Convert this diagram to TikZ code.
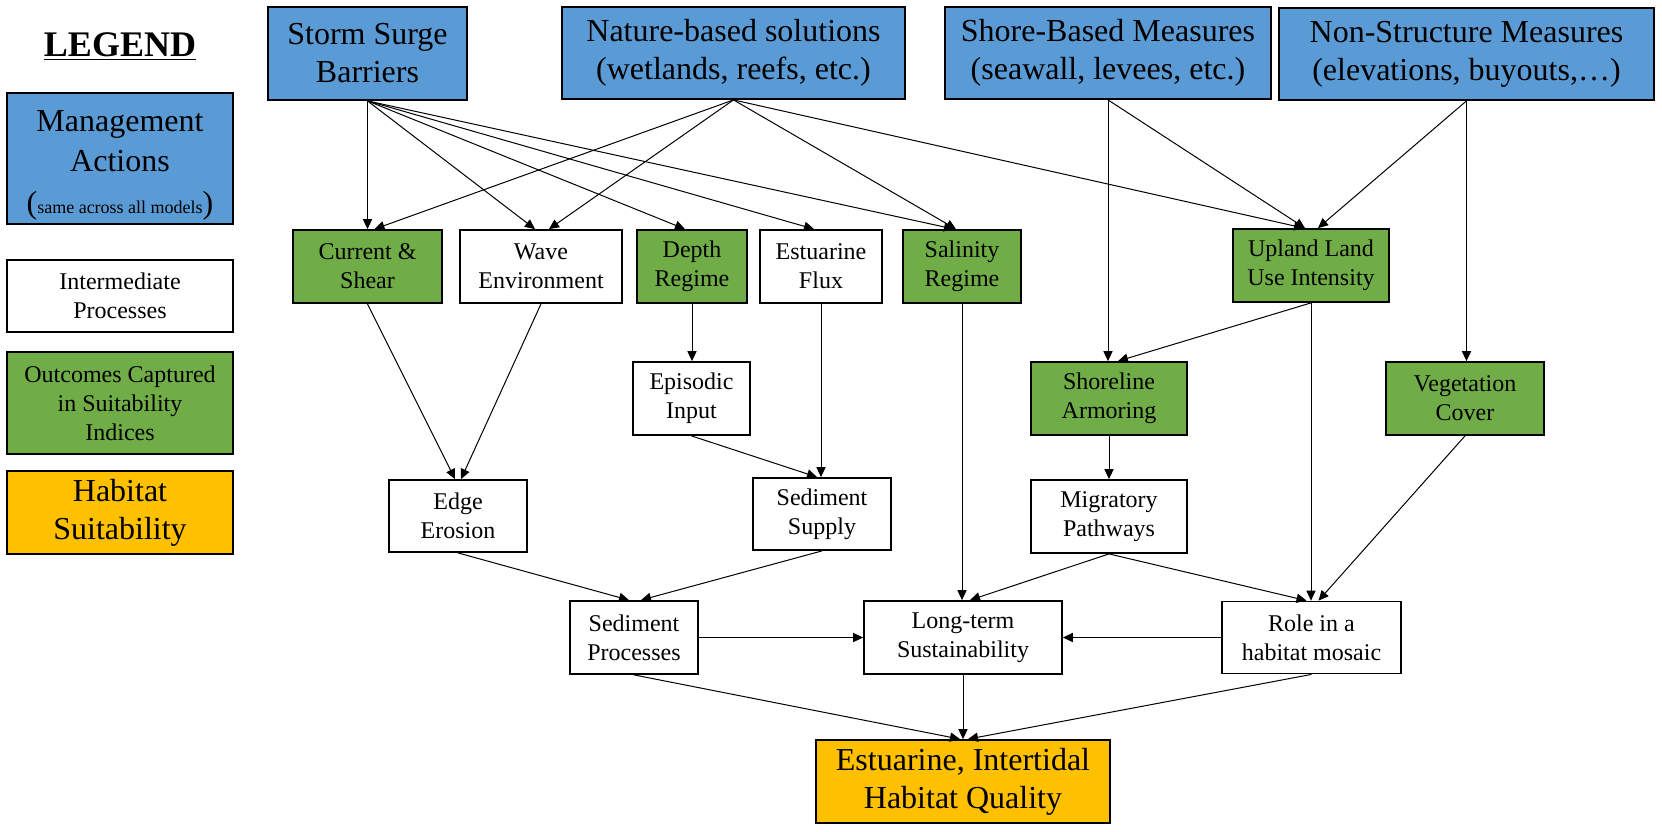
\documentclass[tikz,border=0pt]{standalone}
\usepackage{fontspec}
\setmainfont{Liberation Serif}
\usetikzlibrary{arrows.meta}
\definecolor{mablue}{HTML}{5B9BD5}
\definecolor{magreen}{HTML}{70AD47}
\definecolor{maorange}{HTML}{FFC000}
\newcommand{\bigstrutA}{\rule{0pt}{13pt}}
\newcommand{\smallstrutA}{\rule{0pt}{10pt}}
\tikzset{
  box/.style={draw=black, line width=0.9pt, inner sep=0pt, align=center, text=black},
  bluebox/.style={box, fill=mablue, font=\fontsize{16}{19}\selectfont, execute at begin node=\bigstrutA},
  greenbox/.style={box, fill=magreen, font=\fontsize{12}{14.5}\selectfont, execute at begin node=\smallstrutA},
  whitebox/.style={box, fill=white, font=\fontsize{12}{14.5}\selectfont, execute at begin node=\smallstrutA},
  orangebox/.style={box, fill=maorange, font=\fontsize{16}{19}\selectfont, execute at begin node=\bigstrutA},
  arr/.style={draw=black, line width=0.5pt, -{Triangle[length=5pt,width=4.6pt]}},
}
\begin{document}
\begin{tikzpicture}[x=0.5pt,y=-0.5pt]
\useasboundingbox (0,0) rectangle (1662,831);
% legend
\node[font=\fontsize{18}{21}\selectfont\bfseries] (legend) at (120,47) {\underline{LEGEND}};
\node[bluebox, font=\fontsize{16}{20}\selectfont, minimum width=113pt, minimum height=65.5pt] (lma) at (120,158.5)
  {\rule{0pt}{17.5pt}Management\\Actions\\[1pt]({\fontsize{9}{10}\selectfont same across all models})};
\node[whitebox, minimum width=113pt, minimum height=36pt] (lip) at (120,296) {Intermediate\\Processes};
\node[greenbox, minimum width=113pt, minimum height=51pt] (loc) at (120,403) {Outcomes Captured\\in Suitability\\Indices};
\node[orangebox, minimum width=113pt, minimum height=41.5pt] (lhs) at (120,512.5) {Habitat\\Suitability};
% top row
\node[bluebox, minimum width=99.5pt, minimum height=46.5pt] (ssb) at (367.5,53.5) {Storm Surge\\Barriers};
\node[bluebox, minimum width=171.5pt, minimum height=46pt] (nbs) at (733.5,53) {Nature-based solutions\\(wetlands, reefs, etc.)};
\node[bluebox, minimum width=163pt, minimum height=46pt] (sbm) at (1108,53) {Shore-Based Measures\\(seawall, levees, etc.)};
\node[bluebox, minimum width=187.5pt, minimum height=46pt] (nsm) at (1466.5,54) {Non-Structure Measures\\(elevations, buyouts,\dots)};
% row 2
\node[greenbox, minimum width=74.5pt, minimum height=36.5pt] (cs) at (367.5,266.5) {Current \&\\Shear};
\node[whitebox, minimum width=81pt, minimum height=36.5pt] (we) at (541,266.5) {Wave\\Environment};
\node[greenbox, minimum width=55pt, minimum height=36.5pt] (dr) at (692,266.5) {Depth\\Regime};
\node[whitebox, minimum width=61pt, minimum height=36.5pt] (ef) at (821,266.5) {Estuarine\\Flux};
\node[greenbox, minimum width=59pt, minimum height=36.5pt] (sr) at (962,266.5) {Salinity\\Regime};
\node[greenbox, minimum width=78pt, minimum height=36.5pt] (ul) at (1311,265.5) {Upland Land\\Use Intensity};
% row 3
\node[whitebox, minimum width=58.5pt, minimum height=36.5pt] (ei) at (691.5,398.5) {Episodic\\Input};
\node[greenbox, minimum width=78pt, minimum height=36.5pt] (sa) at (1109,398.5) {Shoreline\\Armoring};
\node[greenbox, minimum width=79pt, minimum height=36.5pt] (vc) at (1465,398.5) {Vegetation\\Cover};
% row 4
\node[whitebox, minimum width=69pt, minimum height=36pt] (ee) at (458,516) {Edge\\Erosion};
\node[whitebox, minimum width=69pt, minimum height=36pt] (ss) at (822,514) {Sediment\\Supply};
\node[whitebox, minimum width=78pt, minimum height=36.5pt] (mp) at (1109,516.5) {Migratory\\Pathways};
% row 5
\node[whitebox, minimum width=64pt, minimum height=36.5pt] (sp) at (634,637.5) {Sediment\\Processes};
\node[whitebox, minimum width=99pt, minimum height=36.5pt] (lt) at (963,637.5) {Long-term\\Sustainability};
\node[whitebox, minimum width=89.5pt, minimum height=36pt] (rm) at (1311.5,637.5) {Role in a\\habitat mosaic};
% bottom
\node[orangebox, minimum width=147pt, minimum height=41.5pt] (eq) at (963,781.5) {Estuarine, Intertidal\\Habitat Quality};
% connectors
\draw[arr] (ssb.south) -- (cs.north);
\draw[arr] (ssb.south) -- ([xshift=-3pt]we.north);
\draw[arr] (ssb.south) -- ([xshift=-3.5pt]dr.north);
\draw[arr] (ssb.south) -- ([xshift=-3.5pt]ef.north);
\draw[arr] (ssb.south) -- ([xshift=-4pt]sr.north);
\draw[arr] (nbs.south) -- ([xshift=3.5pt]cs.north);
\draw[arr] (nbs.south) -- ([xshift=4pt]we.north);
\draw[arr] (nbs.south) -- ([xshift=-3pt]sr.north);
\draw[arr] (nbs.south) -- ([xshift=-3.5pt]ul.north);
\draw[arr] (sbm.south) -- ([xshift=-3pt]ul.north);
\draw[arr] (sbm.south) -- (sbm.south |- sa.north);
\draw[arr] (nsm.south) -- ([xshift=3.5pt]ul.north);
\draw[arr] (nsm.south) -- (nsm.south |- vc.north);
\draw[arr] (ul.south) -- ([xshift=4.5pt]sa.north);
\draw[arr] (ul.south) -- (ul.south |- rm.north);
\draw[arr] (cs.south) -- ([xshift=-1.5pt]ee.north);
\draw[arr] (we.south) -- ([xshift=1.5pt]ee.north);
\draw[arr] (dr.south) -- (dr.south |- ei.north);
\draw[arr] (ef.south) -- (ef.south |- ss.north);
\draw[arr] (ei.south) -- ([xshift=-2.5pt]ss.north);
\draw[arr] (sr.south) -- (sr.south |- lt.north);
\draw[arr] (sa.south) -- (mp.north);
\draw[arr] (vc.south) -- ([xshift=3.5pt]rm.north);
\draw[arr] (mp.south) -- ([xshift=-2.5pt]rm.north);
\draw[arr] (mp.south) -- ([xshift=3.5pt]lt.north);
\draw[arr] (ee.south) -- ([xshift=-2.5pt]sp.north);
\draw[arr] (ss.south) -- ([xshift=3.5pt]sp.north);
\draw[arr] (sp.east) -- (lt.west);
\draw[arr] (rm.west) -- (lt.east);
\draw[arr] (sp.south) -- ([xshift=-1.5pt]eq.north);
\draw[arr] (lt.south) -- (eq.north);
\draw[arr] (rm.south) -- ([xshift=2.5pt]eq.north);
\end{tikzpicture}
\end{document}
